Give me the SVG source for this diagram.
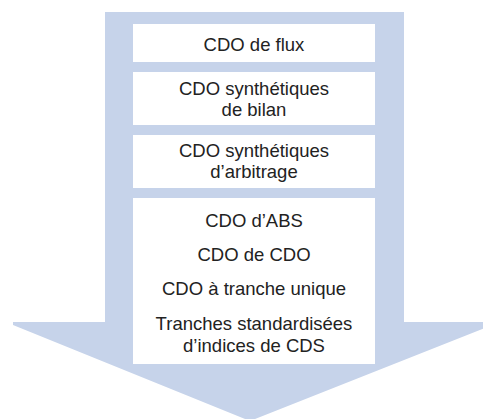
<svg xmlns="http://www.w3.org/2000/svg" width="483" height="419" viewBox="0 0 483 419">
<style>
.box{fill:#ffffff}
.t{font-family:"Liberation Sans",Arial,sans-serif;font-size:18.5px;fill:#222222;text-anchor:middle}
</style>
<rect width="483" height="419" fill="#ffffff"/>
<g id="arrow">
<polygon points="105,12 404,12 404,322 485,322 485,328 250,421 13,325 13,322 105,322" fill="#c6d3ea"/>
</g>
<g id="node1">
<rect class="box" x="133" y="24" width="242" height="38"/>
<text class="t" x="254" y="51">CDO de flux</text>
</g>
<g id="node2">
<rect class="box" x="133" y="72" width="242" height="53"/>
<text class="t" x="254" y="94.5">CDO synthétiques</text>
<text class="t" x="254" y="115.5">de bilan</text>
</g>
<g id="node3">
<rect class="box" x="133" y="135" width="242" height="53"/>
<text class="t" x="254" y="157">CDO synthétiques</text>
<text class="t" x="254" y="177.5">d’arbitrage</text>
</g>
<g id="node4">
<rect class="box" x="133" y="198" width="242" height="166"/>
<text class="t" x="254" y="227">CDO d’ABS</text>
<text class="t" x="254" y="261">CDO de CDO</text>
<text class="t" x="254" y="295">CDO à tranche unique</text>
<text class="t" x="254" y="330">Tranches standardisées</text>
<text class="t" x="254" y="352">d’indices de CDS</text>
</g>
<g id="connectors"></g>
</svg>
